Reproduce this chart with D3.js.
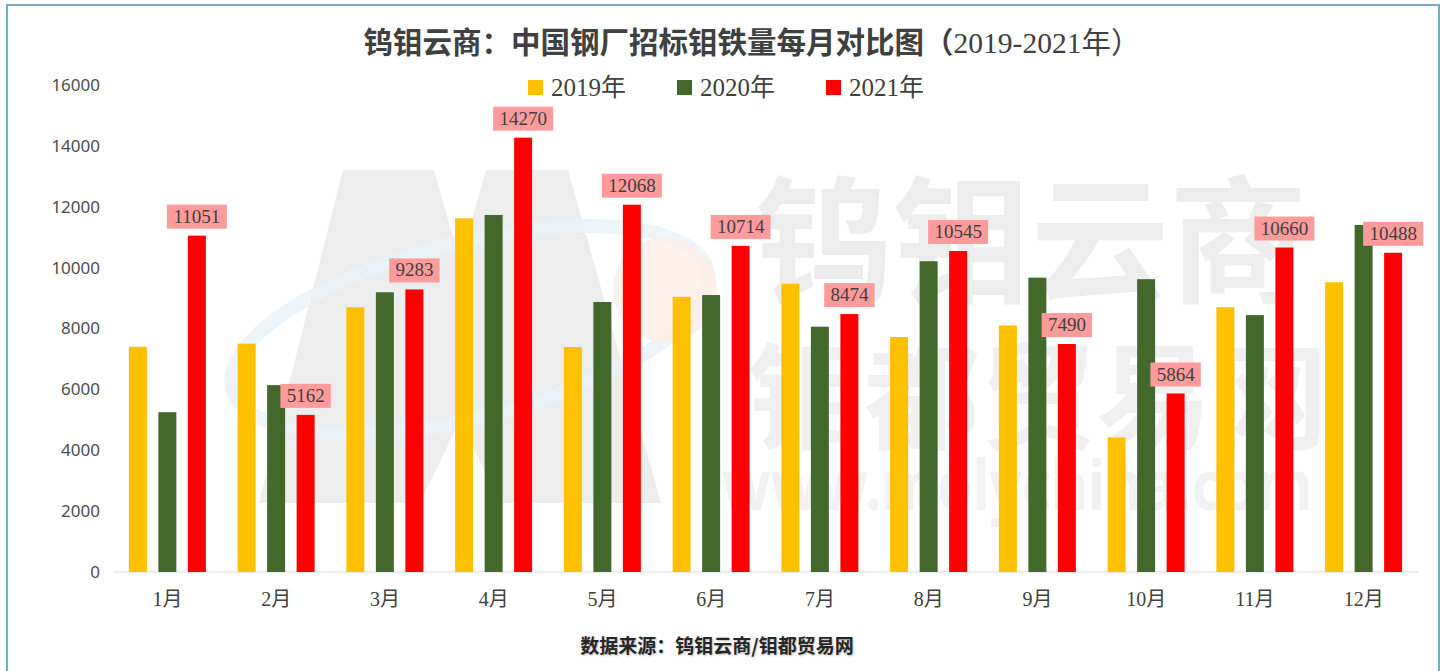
<!DOCTYPE html>
<html>
<head>
<meta charset="utf-8">
<script src="https://cdn.jsdelivr.net/npm/d3@7"></script>
<style>
  body { margin: 0; background: #fff; }
  svg { display: block; }
</style>
</head>
<body>
<svg id="canvas" width="1449" height="671"></svg>
<script>
const months = ["1月", "2月", "3月", "4月", "5月", "6月", "7月", "8月", "9月", "10月", "11月", "12月"];
const seriesNames = ["2019年", "2020年", "2021年"];
const values2019 = [7400, 7500, 8700, 11620, 7390, 9040, 9470, 7720, 8100, 4420, 8700, 9520];
const values2020 = [5250, 6140, 9190, 11730, 8870, 9100, 8060, 10210, 9670, 9620, 8440, 11400];
const values2021 = [11051, 5162, 9283, 14270, 12068, 10714, 8474, 10545, 7490, 5864, 10660, 10488];
const yTicks = [0, 2000, 4000, 6000, 8000, 10000, 12000, 14000, 16000];

const colors = { "2019年": "#FFC000", "2020年": "#43682B", "2021年": "#FF0000" };
const serifCjk = "'Liberation Serif', 'Noto Sans CJK SC', serif";
const textColor = "#404040";

const canvas = d3.select("#canvas");

// rows for the bars
const rows = months.map((m, i) => ({
  month: m,
  "2019年": values2019[i],
  "2020年": values2020[i],
  "2021年": values2021[i]
}));

const x0 = d3.scaleBand().domain(months).range([113, 1418]).paddingInner(0.292).paddingOuter(0.146);
const x1 = d3.scaleBand().domain(seriesNames).range([0, x0.bandwidth()]).paddingInner(0.39);
const y = d3.scaleLinear().domain([0, 16000]).range([572, 85]);

// frame
canvas.append("rect")
  .attr("x", 7).attr("y", 5).attr("width", 1432).attr("height", 720)
  .attr("fill", "#fff").attr("stroke", "#72AEC2").attr("stroke-width", 2);

// watermark
const wm = canvas.append("g").attr("class", "watermark");
wm.append("path")
  .attr("d", "M259,503 L343,170 L434,170 L460,262 L486,170 L568,170 L661,503 L500,503 L460,420 L420,503 Z")
  .attr("fill", "#ededed");
wm.append("ellipse")
  .attr("cx", 470).attr("cy", 330).attr("rx", 245).attr("ry", 88)
  .attr("transform", "rotate(-14 470 330)")
  .attr("fill", "none").attr("stroke", "#e8f1f9").attr("stroke-width", 14).attr("opacity", 0.8);
wm.append("circle")
  .attr("cx", 665).attr("cy", 290).attr("r", 52)
  .attr("fill", "#fcede7").attr("opacity", 0.8);
wm.append("text")
  .attr("x", 755).attr("y", 292)
  .attr("font-family", "'Noto Sans CJK SC'").attr("font-weight", "bold")
  .attr("font-size", 138).attr("fill", "#ededed")
  .text("钨钼云商");
wm.append("text")
  .attr("x", 748).attr("y", 440)
  .attr("font-family", "'Noto Sans CJK SC'").attr("font-weight", "bold")
  .attr("font-size", 116).attr("fill", "#f0f0f0")
  .text("钼都贸易网");
wm.append("text")
  .attr("x", 722).attr("y", 510)
  .attr("font-family", "'Noto Sans', sans-serif").attr("font-weight", "bold")
  .attr("font-size", 70).attr("fill", "#f2f2f2")
  .attr("textLength", 590).attr("lengthAdjust", "spacingAndGlyphs")
  .text("www.molychina.com");

// title
const title = canvas.append("text")
  .attr("x", 752).attr("y", 53)
  .attr("text-anchor", "middle")
  .attr("font-family", serifCjk)
  .attr("font-size", 29.5).attr("fill", textColor);
title.append("tspan").attr("font-weight", "bold").text("钨钼云商：中国钢厂招标钼铁量每月对比图（");
title.append("tspan").text("2019-2021年）");

// legend
const legendX = [528, 677, 826];
const legend = canvas.append("g").selectAll("g").data(seriesNames).enter().append("g")
  .attr("transform", (d, i) => `translate(${legendX[i]},80)`);
legend.append("rect").attr("width", 15).attr("height", 15).attr("fill", d => colors[d]);
legend.append("text")
  .attr("x", 23).attr("y", 16)
  .attr("font-family", serifCjk).attr("font-size", 25).attr("fill", textColor)
  .text(d => d);

// y axis
const yAxis = canvas.append("g")
  .attr("transform", "translate(100,0)")
  .call(d3.axisLeft(y).tickValues(yTicks).tickSize(0).tickPadding(0).tickFormat(d3.format("d")));
yAxis.select(".domain").remove();
yAxis.selectAll("text")
  .attr("font-family", "'Noto Sans', sans-serif").attr("font-size", 17).attr("fill", "#4d4d4d");

// baseline
canvas.append("line")
  .attr("x1", 113).attr("x2", 1418).attr("y1", y(0)).attr("y2", y(0))
  .attr("stroke", "#d9d9d9").attr("stroke-width", 1);

// x axis labels
const xAxis = canvas.append("g")
  .attr("transform", `translate(0,${y(0)})`)
  .call(d3.axisBottom(x0).tickSize(0).tickPadding(20));
xAxis.select(".domain").remove();
xAxis.selectAll("text")
  .attr("font-family", serifCjk).attr("font-size", 20).attr("fill", textColor);

// bars
const groups = canvas.append("g").selectAll("g").data(rows).enter().append("g")
  .attr("transform", d => `translate(${x0(d.month)},0)`);
groups.selectAll("rect")
  .data(d => seriesNames.map(s => ({ key: s, value: d[s] })))
  .enter().append("rect")
  .attr("x", d => x1(d.key))
  .attr("y", d => y(d.value))
  .attr("width", x1.bandwidth())
  .attr("height", d => y(0) - y(d.value))
  .attr("fill", d => colors[d.key]);

// 2021 value labels
const labels = canvas.append("g").selectAll("g").data(rows).enter().append("g")
  .attr("transform", d => `translate(${x0(d.month) + x1("2021年") + x1.bandwidth() / 2},${y(d["2021年"]) - 7})`);
labels.append("rect")
  .attr("x", d => -(String(d["2021年"]).length * 9.6 + 12) / 2)
  .attr("y", -24)
  .attr("width", d => String(d["2021年"]).length * 9.6 + 12)
  .attr("height", 24)
  .attr("fill", "#FF9B9B");
labels.append("text")
  .attr("y", -6)
  .attr("text-anchor", "middle")
  .attr("font-family", "'Liberation Serif', serif").attr("font-size", 19).attr("fill", textColor)
  .text(d => d["2021年"]);

// source
canvas.append("text")
  .attr("x", 717).attr("y", 653)
  .attr("text-anchor", "middle")
  .attr("font-family", "'Noto Sans CJK SC', sans-serif").attr("font-weight", "bold")
  .attr("font-size", 19).attr("fill", "#262626")
  .style("text-shadow", "1px 1px 2px #bbb")
  .text("数据来源：钨钼云商/钼都贸易网");
</script>
</body>
</html>
